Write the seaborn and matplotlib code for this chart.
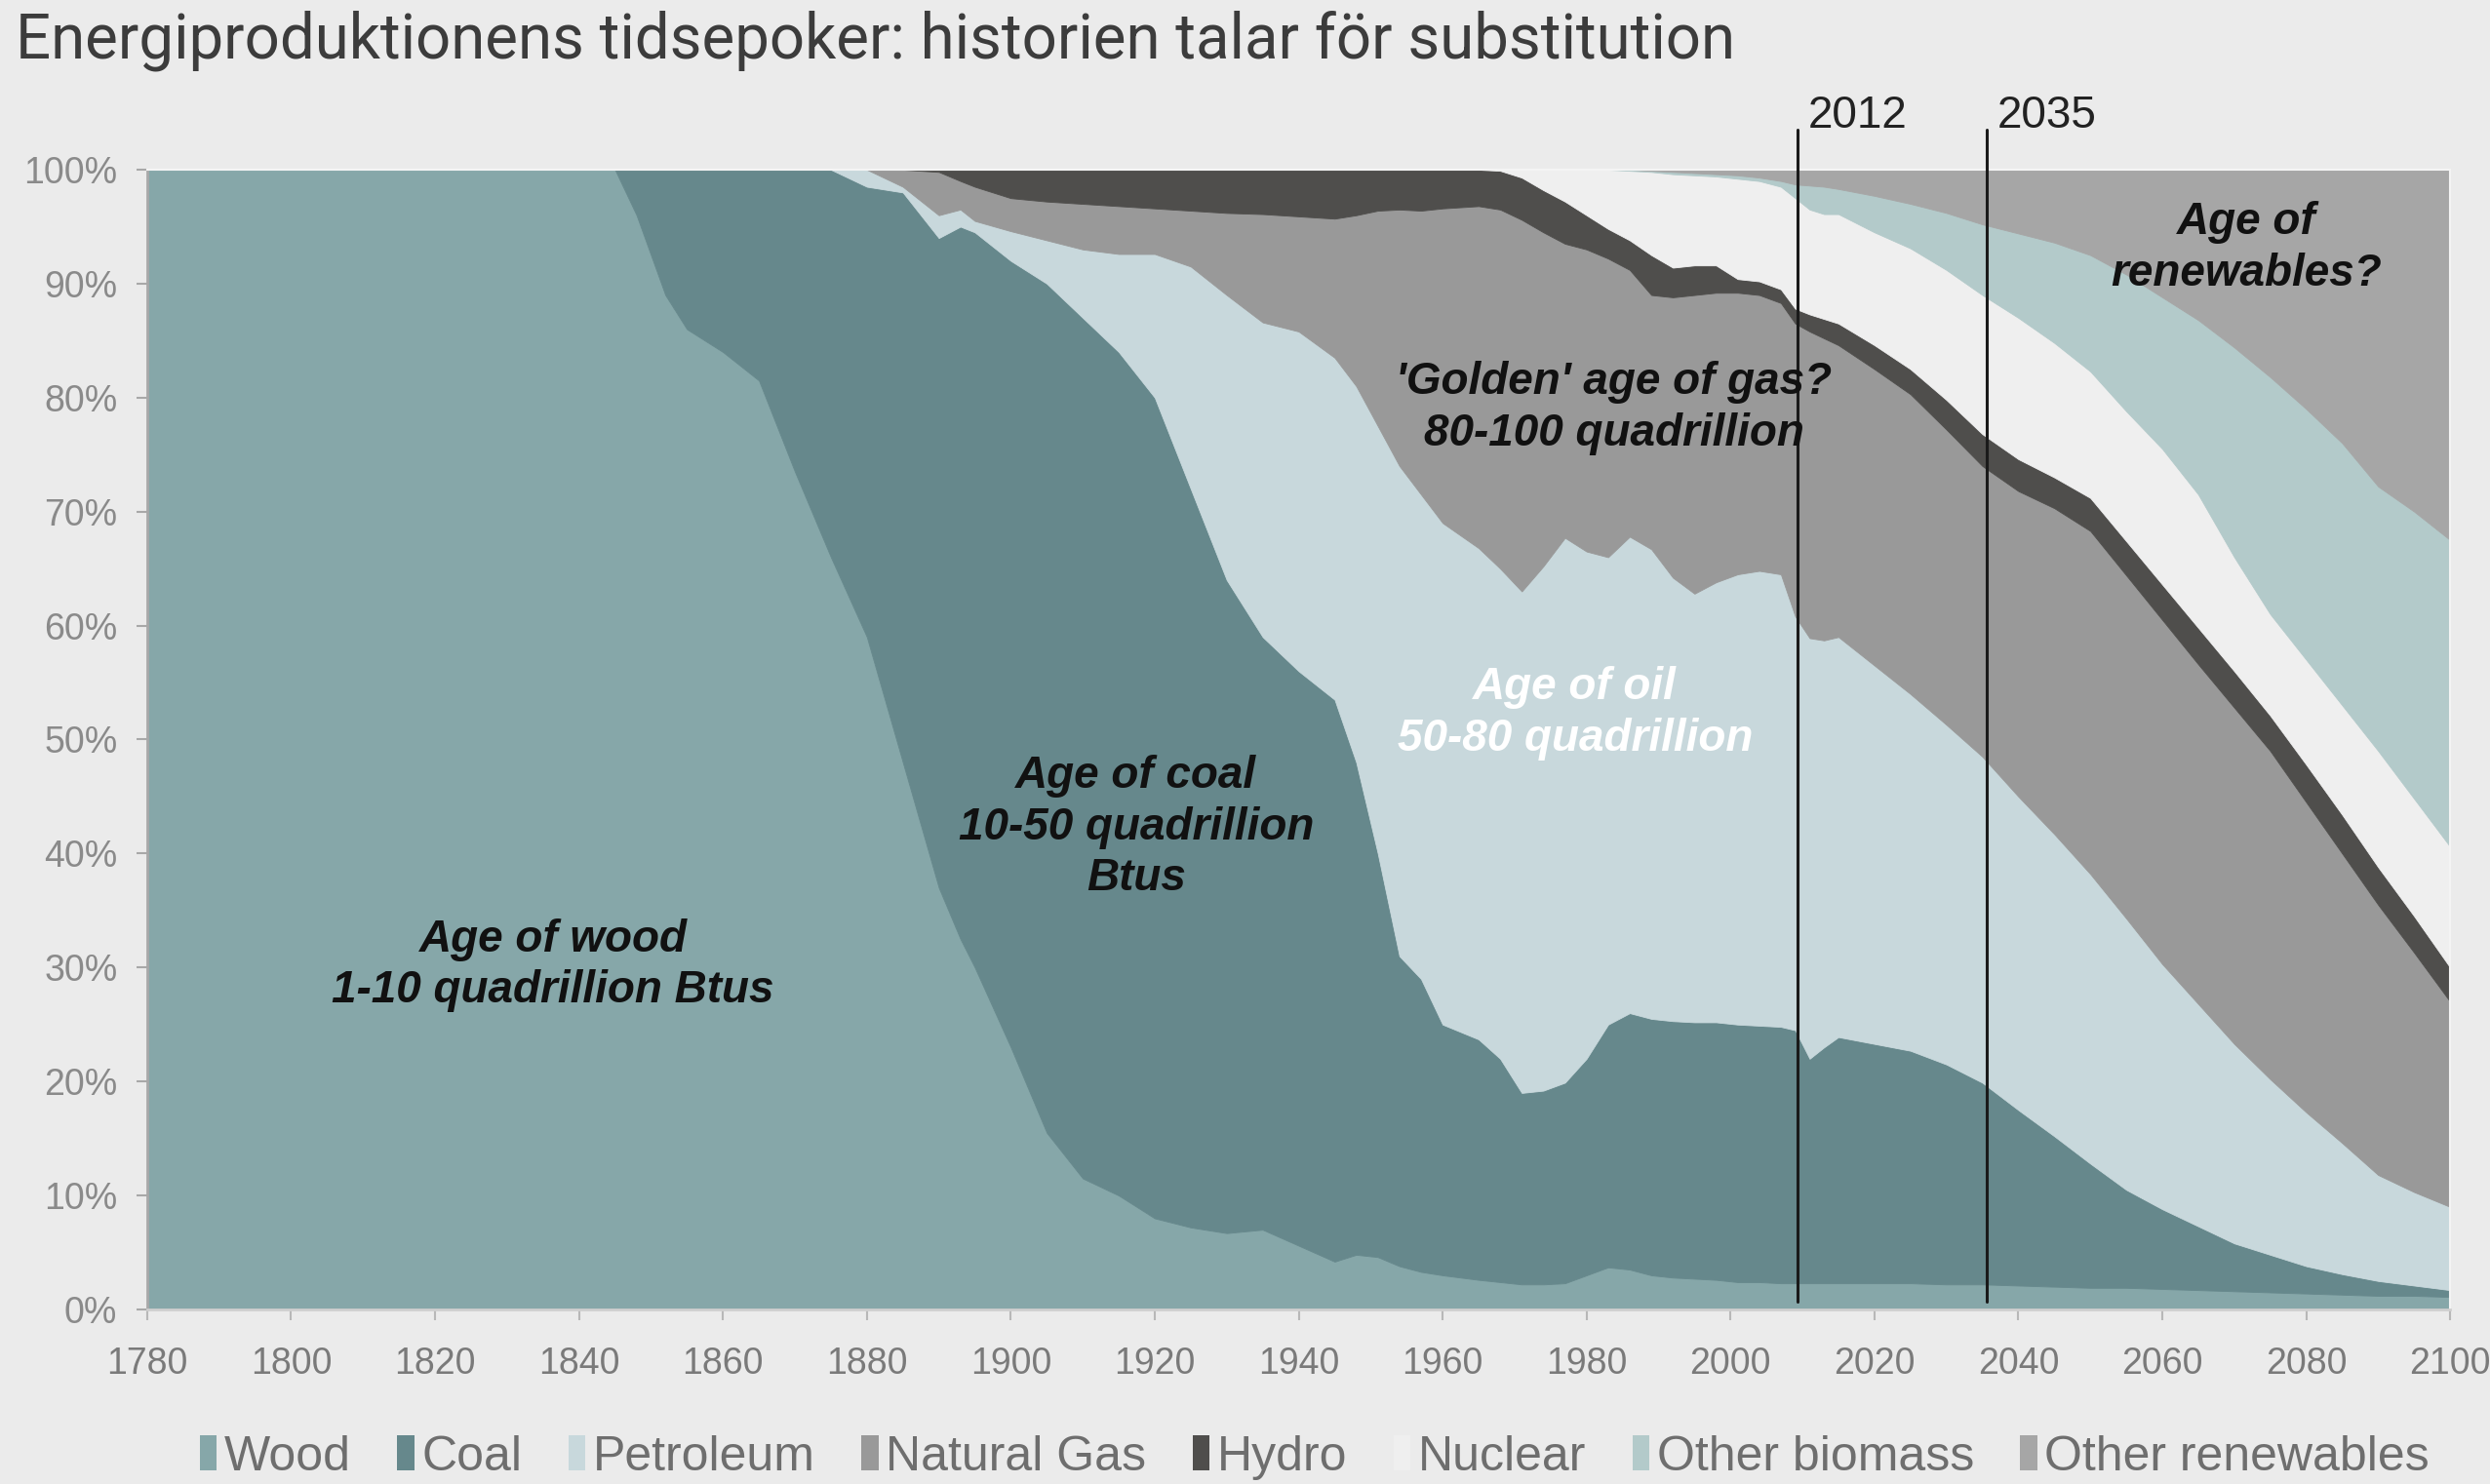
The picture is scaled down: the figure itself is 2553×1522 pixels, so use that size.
import numpy as np
import matplotlib
matplotlib.use("Agg")
import matplotlib.pyplot as plt
from matplotlib import font_manager
from matplotlib.patches import Patch
import seaborn as sns

# === Data (share of world energy production, cumulative tops in %) ===
years = [1780, 1845, 1848, 1852, 1855, 1860, 1865, 1870, 1875, 1880,
         1885, 1890, 1893, 1895, 1900, 1905, 1910, 1915, 1920, 1925,
         1930, 1935, 1940, 1945, 1948, 1951, 1954, 1957, 1960, 1965,
         1968, 1971, 1974, 1977, 1980, 1983, 1986, 1989, 1992, 1995,
         1998, 2001, 2004, 2007, 2009, 2011, 2013, 2015, 2020, 2025,
         2030, 2035, 2040, 2045, 2050, 2055, 2060, 2065, 2070, 2075,
         2080, 2085, 2090, 2095, 2100]

wood_top = [100, 100, 96, 89, 86, 84, 81.5, 73.5, 66, 59,
            48, 37, 32.5, 30, 23, 15.5, 11.5, 10, 8, 7.2,
            6.7, 7, 5.6, 4.2, 4.8, 4.6, 3.8, 3.3, 3, 2.6,
            2.4, 2.2, 2.2, 2.3, 3.0, 3.7, 3.5, 3.0, 2.8, 2.7,
            2.6, 2.4, 2.4, 2.3, 2.3, 2.3, 2.3, 2.3, 2.3, 2.3,
            2.2, 2.2, 2.1, 2.0, 1.9, 1.9, 1.8, 1.7, 1.6, 1.5,
            1.4, 1.3, 1.2, 1.2, 1.1]

coal_top = [100, 100, 100, 100, 100, 100, 100, 100, 100, 98.5,
            98, 94, 95, 94.5, 92, 90, 87, 84, 80, 72,
            64, 59, 56, 53.5, 48, 40, 31, 29, 25, 23.7,
            22, 19, 19.2, 19.9, 22, 25, 26, 25.5, 25.3, 25.2,
            25.2, 25, 24.9, 24.8, 24.5, 22, 23, 23.9, 23.3, 22.7,
            21.5, 19.9, 17.5, 15.2, 12.8, 10.5, 8.8, 7.3, 5.8, 4.8,
            3.8, 3.1, 2.5, 2.1, 1.7]

petroleum_top = [100, 100, 100, 100, 100, 100, 100, 100, 100, 100,
                 98.5, 96, 96.5, 95.5, 94.6, 93.8, 93, 92.6, 92.6, 91.5,
                 89, 86.6, 85.8, 83.5, 81, 77.5, 74, 71.5, 69, 66.8,
                 65, 63, 65.2, 67.7, 66.5, 66, 67.8, 66.7, 64.2, 62.8,
                 63.8, 64.5, 64.8, 64.5, 60.8, 58.9, 58.7, 59, 56.5, 54,
                 51.3, 48.5, 45, 41.7, 38.2, 34.3, 30.3, 26.8, 23.3, 20.2,
                 17.3, 14.6, 11.8, 10.3, 9]

gas_top = [100, 100, 100, 100, 100, 100, 100, 100, 100, 100,
           100, 99.8, 99, 98.5, 97.5, 97.2, 97, 96.8, 96.6, 96.4,
           96.2, 96.1, 95.9, 95.7, 96, 96.4, 96.5, 96.4, 96.6, 96.8,
           96.5, 95.6, 94.5, 93.5, 93, 92.2, 91.2, 89, 88.8, 89,
           89.2, 89.2, 89, 88.3, 86.5, 85.8, 85.2, 84.6, 82.5, 80.3,
           77.2, 74, 71.8, 70.3, 68.3, 64.4, 60.5, 56.6, 52.8, 49,
           44.5, 40, 35.5, 31.3, 27]

hydro_top = [100, 100, 100, 100, 100, 100, 100, 100, 100, 100,
             100, 100, 100, 100, 100, 100, 100, 100, 100, 100,
             100, 100, 100, 100, 100, 100, 100, 100, 100, 100,
             99.9, 99.3, 98.2, 97.2, 96, 94.8, 93.8, 92.5, 91.4, 91.6,
             91.6, 90.4, 90.2, 89.5, 87.8, 87.3, 86.9, 86.5, 84.6, 82.5,
             79.8, 76.8, 74.6, 73, 71.2, 67.4, 63.6, 59.8, 56, 52.1,
             47.8, 43.4, 38.8, 34.5, 30]

nuclear_top = [100, 100, 100, 100, 100, 100, 100, 100, 100, 100,
               100, 100, 100, 100, 100, 100, 100, 100, 100, 100,
               100, 100, 100, 100, 100, 100, 100, 100, 100, 100,
               100, 100, 100, 100, 100, 100, 99.9, 99.8, 99.6, 99.5,
               99.4, 99.2, 99, 98.5, 97.5, 96.5, 96.1, 96.1, 94.5, 93.1,
               91.2, 89, 87, 84.8, 82.3, 78.8, 75.5, 71.5, 66, 61,
               57, 53, 49, 44.8, 40.6]

biomass_top = [100, 100, 100, 100, 100, 100, 100, 100, 100, 100,
               100, 100, 100, 100, 100, 100, 100, 100, 100, 100,
               100, 100, 100, 100, 100, 100, 100, 100, 100, 100,
               100, 100, 100, 100, 100, 100, 100, 99.9, 99.8, 99.7,
               99.6, 99.5, 99.3, 99, 98.7, 98.6, 98.5, 98.3, 97.7, 97,
               96.2, 95.2, 94.4, 93.6, 92.5, 90.8, 88.8, 86.8, 84.4, 81.8,
               79, 76, 72.2, 70, 67.5]

series_names = ["Wood", "Coal", "Petroleum", "Natural Gas", "Hydro",
                "Nuclear", "Other biomass", "Other renewables"]
series_colors = ["#86A7A9", "#66888C", "#C8D8DC", "#999999", "#4F4E4C",
                 "#EFEFEF", "#B3CACA", "#A6A6A6"]

marker_years = [2009.3, 2035.6]
marker_labels = ["2012", "2035"]

x_ticks = list(range(1780, 2101, 20))
y_ticks = list(range(0, 101, 10))
y_tick_labels = [f"{v}%" for v in y_ticks]

title = "Energiproduktionens tidsepoker: historien talar för substitution"

# === Fonts ===
sns.set_theme(style="white", rc={"axes.facecolor": "#EBEBEB",
                                 "figure.facecolor": "#EBEBEB"})
installed = {f.name for f in font_manager.fontManager.ttflist}


def pick(*names):
    for n in names:
        if n in installed:
            return n
    return "DejaVu Sans"


title_font = pick("Liberation Sans Narrow", "Roboto", "Open Sans")
arial_font = pick("Liberation Sans", "DejaVu Sans")
plt.rcParams["font.family"] = [arial_font, "DejaVu Sans"]

# === Stack the layers ===
tops = np.vstack([wood_top, coal_top, petroleum_top, gas_top, hydro_top,
                  nuclear_top, biomass_top, np.full(len(years), 100.0)])
bottoms = np.vstack([np.zeros(len(years)), tops[:-1]])
shares = tops - bottoms

fig = plt.figure(figsize=(25.53, 15.22), dpi=100)
ax = fig.add_axes([0.0591, 0.1176, 0.9249, 0.7681])

ax.stackplot(years, shares, colors=series_colors, labels=series_names,
             linewidth=0.6, edgecolor="face")

ax.set_xlim(1780, 2100)
ax.set_ylim(0, 100)
ax.set_xticks(x_ticks)
ax.set_xticklabels([str(x) for x in x_ticks], fontsize=27,
                   color="#7a7a7a")
ax.set_yticks(y_ticks)
ax.set_yticklabels(y_tick_labels, fontsize=27, color="#8a8a8a")
ax.tick_params(axis="x", length=8, width=1.5, color="#b8b8b8", pad=19,
               direction="out", bottom=True)
ax.tick_params(axis="y", length=8, width=1.5, color="#a8a8a8", pad=14,
               direction="out", left=True)
ax.set_xlabel("")
ax.set_ylabel("")

for side in ["top", "right"]:
    ax.spines[side].set_color("#f4f4f4")
    ax.spines[side].set_linewidth(1.5)
ax.spines["left"].set_color("#a8a8a8")
ax.spines["left"].set_linewidth(2)
ax.spines["bottom"].set_color("#cfcfcf")
ax.spines["bottom"].set_linewidth(2)

# Reference year lines with labels above the plot
for yr, lab in zip(marker_years, marker_labels):
    ax.plot([yr, yr], [0.7, 103.5], color="#1a1a1a", lw=2.2,
            clip_on=False, zorder=5)
    ax.annotate(lab, xy=(yr, 104.7), xytext=(8, 0),
                textcoords="offset points", ha="left", va="center",
                fontsize=33, color="#222222", annotation_clip=False)

# Era annotations
eras = [
    ("Age of wood\n1-10 quadrillion Btus", 1836.4, 30.2, "#111111"),
    ("Age of coal\n10-50 quadrillion\nBtus", 1917.4, 42.3, "#111111"),
    ("Age of oil\n50-80 quadrillion", 1978.4, 52.3, "white"),
    ("'Golden' age of gas?\n80-100 quadrillion", 1983.8, 79.1, "#111111"),
    ("Age of\nrenewables?", 2071.7, 93.1, "#111111"),
]
for txt, ex, ey, col in eras:
    ax.text(ex, ey, txt, ha="center", va="center", multialignment="center",
            fontsize=33, fontweight="bold", fontstyle="italic",
            color=col, linespacing=1.25, zorder=6)

# Title, sized so it spans the same width as in the original
t = fig.text(0.0063, 0.9606, title, ha="left", va="baseline",
             family=[title_font, "DejaVu Sans"], fontweight="normal",
             fontsize=48, color="#3c3c3c")
renderer = fig.canvas.get_renderer()
w = t.get_window_extent(renderer).width
t.set_fontsize(48 * 1762 / w)

# Legend
handles = [Patch(facecolor=c, edgecolor="none") for c in series_colors]
fig.legend(handles, series_names, loc="center", bbox_to_anchor=(0.528, 0.018),
           ncol=8, frameon=False, fontsize=36, handlelength=0.35,
           handleheight=0.75, handletextpad=0.15, columnspacing=0.95,
           labelcolor="#6e6e6e", borderaxespad=0)

fig.savefig("out.png", dpi=100, facecolor=fig.get_facecolor())
